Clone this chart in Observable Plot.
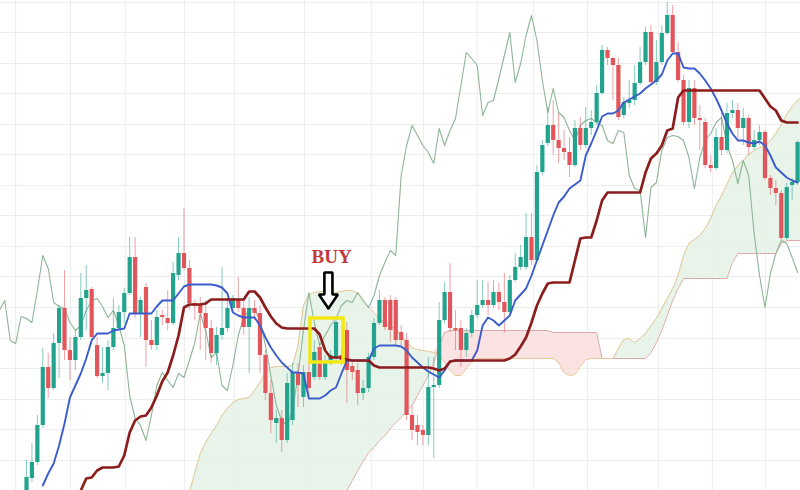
<!DOCTYPE html>
<html>
<head>
<meta charset="utf-8">
<script src="https://cdn.jsdelivr.net/npm/d3@7"></script>
<script src="https://cdn.jsdelivr.net/npm/@observablehq/plot@0.6"></script>
<style>
  html, body { margin: 0; padding: 0; background: #ffffff; }
  #chart svg { display: block; }
</style>
</head>
<body>
<div id="chart"></div>
<script>
// ---- Candles (index 0..142) ----
const open = [
  8,22,38,75,133,112,157,192,150,140,
  163,202,211,155,124,127,153,172,188,207,
  243,187,213,160,155,185,182,177,225,247,
  232,197,195,187,172,147,165,172,192,200,
  192,173,192,187,145,107,77,82,60,80,
  128,103,128,123,153,123,140,142,145,170,
  134,130,107,112,143,177,200,200,200,168,
  160,85,75,70,65,113,115,180,208,172,
  172,150,167,185,195,200,195,208,198,188,
  220,233,233,263,240,328,357,375,360,352,
  348,335,372,355,372,378,407,450,442,435,
  385,397,400,417,438,468,418,438,467,485,
  448,420,378,412,382,378,335,332,363,350,
  387,390,372,382,353,360,368,322,312,307,
  262,315,318
];
const close = [
  23,38,75,133,112,157,192,150,140,163,
  202,210,163,124,127,153,172,188,207,243,
  187,200,160,155,183,183,177,227,247,232,
  197,194,187,172,147,165,172,192,202,192,
  173,192,187,145,107,80,82,60,117,128,
  115,128,112,148,123,138,145,178,140,130,
  128,107,112,143,177,200,173,170,160,160,
  85,70,68,65,113,115,180,208,172,170,
  150,167,185,195,200,195,208,198,188,220,
  233,243,263,240,328,355,375,360,352,348,
  335,372,355,372,378,407,450,442,435,383,
  398,400,417,438,468,418,438,467,485,448,
  420,378,412,382,380,335,332,363,350,387,
  390,372,382,353,360,368,322,312,307,262,
  313,318,358
];
const high = [
  40,57,85,152,147,167,195,230,163,170,
  227,235,213,163,153,160,202,195,212,263,
  263,203,217,180,190,190,210,238,263,292,
  240,200,203,200,180,173,233,202,205,223,
  200,203,200,195,150,120,90,90,127,137,
  137,135,137,160,157,145,150,182,150,178,
  140,137,120,147,182,210,203,205,203,175,
  167,95,85,75,143,143,198,218,237,190,
  180,172,190,220,220,218,220,217,227,225,
  247,255,287,287,335,360,393,400,387,370,
  363,380,383,393,390,415,455,453,443,442,
  403,420,435,453,473,475,460,475,498,495,
  458,425,420,420,395,382,345,372,390,397,
  400,397,392,385,370,375,370,325,320,310,
  317,322,360
];
const low = [
  5,18,35,72,102,110,122,140,120,130,
  160,170,160,122,117,110,150,170,177,205,
  182,163,133,150,150,175,170,175,220,230,
  190,180,150,140,137,135,160,168,188,188,
  165,127,180,127,100,67,57,48,57,75,
  93,93,105,120,120,120,135,138,135,97,
  120,95,100,108,140,175,170,158,155,155,
  80,60,55,55,55,42,112,177,168,150,
  133,143,163,182,192,185,192,190,167,185,
  218,230,230,235,238,325,354,345,337,340,
  323,333,350,352,365,375,405,435,400,380,
  382,392,395,415,435,415,415,435,465,445,
  418,375,372,375,350,332,328,330,345,347,
  382,360,355,345,350,355,320,305,295,260,
  260,300,315
];

// ---- Tenkan-sen (conversion line), starts at candle 3 ----
const tenkanStart = 3;
const tenkan = [
  15,27,37,55,77,103,115,127,142,160,
  167,167,167,170,171,172,187,187,187,187,
  187,194,200,200,200,207,214,216,216,216,
  216,216,215,213,207,188,185,183,183,183,
  175,163,153,145,138,133,128,128,127,102,
  102,102,105,110,113,127,140,140,140,140,
  140,152,155,155,155,155,154,150,143,138,
  133,129,126,123,130,139,140,140,140,140,
  150,175,183,180,175,180,185,200,206,212,
  225,240,255,270,285,298,304,312,316,320,
  345,357,370,384,387,387,390,398,401,404,
  407,412,416,420,426,440,447,447,433,432,
  432,427,420,412,402,390,377,367,360,360,
  358,357,359,355,345,333,328,323,320,318
];

// ---- Kijun-sen (base line), starts at candle 10 ----
const kijunStart = 10;
const kijun = [
  10,22,23,30,33,33,33,34,45,68,
  80,84,85,93,105,119,128,145,165,193,
  196,196,196,197,201,201,201,201,201,201,
  201,209,209,203,193,184,177,173,172,172,
  172,172,172,172,166,150,143,143,143,141,
  140,140,140,140,135,133,133,133,133,133,
  133,133,133,133,133,132,130,132,139,140,
  140,140,140,140,140,140,140,140,140,142,
  146,154,163,178,195,207,217,218,218,218,
  218,240,262,263,263,280,300,308,308,308,
  308,308,308,308,328,342,347,355,370,372,
  403,410,410,410,410,410,410,410,410,410,
  410,410,410,410,410,410,402,394,390,380,
  378,378,378
];

// ---- Chikou span (lagging line), starts at candle -5 ----
const chikouStart = -5;
const chikou = [
  190,200,160,157,184,182,178,210,245,232,
  198,194,192,178,170,175,190,200,202,194,
  183,190,175,155,105,82,75,60,85,115,
  128,120,113,127,123,140,158,187,170,143,
  148,115,110,135,165,183,190,192,180,155,
  125,95,80,75,90,125,170,208,178,155,
  165,175,182,195,200,198,208,200,193,205,
  225,238,250,245,325,355,375,365,355,348,
  337,372,355,370,382,415,448,442,435,385,
  398,400,422,445,468,418,437,465,485,460,
  420,388,412,388,383,370,360,375,380,382,
  378,375,360,357,370,368,325,312,310,263,
  313,318,350,363,365,364,360,343,312,343,
  360,367,378,383,355,340,317,340,325,267,
  225,193,227,247,260,257,243,228
];

// ---- Senkou span A and B (cloud), start at candle 30 ----
const cloudStart = 30;
const senkouA = [
  8,28,47,58,67,75,85,92,98,101,
  102,103,110,118,128,133,134,134,134,135,
  155,195,206,208,209,209,208,208,209,210,
  210,207,200,193,188,182,178,174,172,165,
  158,153,151,150,149,148,145,138,130,125,
  125,132,138,142,142,142,142,142,142,142,
  142,142,142,142,142,142,142,142,138,128,
  125,126,134,141,142,142,142,142,142,152,
  161,162,158,162,167,175,182,192,202,212,
  225,245,257,261,265,272,282,295,305,316,
  328,335,340,346,350,353,355,360,367,376,
  386,394,400,404
];
const senkouB = [
  0,0,0,0,0,0,0,0,0,0,
  0,0,0,0,0,0,0,0,0,0,
  0,0,0,0,0,0,0,0,5,10,
  20,30,39,48,53,60,65,72,78,83,
  90,95,105,115,125,138,155,168,170,170,
  170,170,170,170,170,170,170,170,170,170,
  170,170,170,170,170,170,170,168,168,168,
  168,168,168,168,168,168,142,142,142,142,
  142,142,142,142,142,148,158,170,185,200,
  212,222,222,222,222,222,222,222,222,222,
  238,247,247,247,247,247,247,247,247,257,
  260,260,260,260
];

// ---- Grid positions (candle index / price) ----
const gridX = [-2, 8.1, 18.2, 29.1, 38.3, 51.2, 63.5, 73.1, 83, 93.4, 103.3, 116.4, 126.3, 136.1];
const gridY = [40, 71, 101, 132, 162, 193, 224, 254, 285, 315, 346, 376, 407, 437, 468, 498];

// ---- Buy signal annotation (candle index / price) ----
const buyLabel = ["BUY"];
const buyBox = [{from: 52.3, to: 58.4, low: 138, high: 182}];
const buyTextAt = {i: 56.2, price: 238};
const buyArrowTip = {i: 55.6, price: 192};
// hollow down-arrow outline: [candle offset, price offset] from the tip
const arrowOutline = [
  [0, 0], [1.75, 14], [0.74, 14], [0.74, 36], [-0.74, 36], [-0.74, 14], [-1.75, 14], [0, 0]
];

// ---- build tables ----
const UP = "#22a38d", DOWN = "#e2565b";
const candles = open.map((o, i) => ({i, o, c: close[i], h: high[i], l: low[i], col: close[i] >= o ? UP : DOWN}));
const series = (arr, start) => arr.map((v, k) => ({i: start + k, v}));
const tenkanData = series(tenkan, tenkanStart);
const kijunData = series(kijun, kijunStart);
const chikouData = series(chikou, chikouStart);
const cloud = senkouA.map((a, k) => ({i: cloudStart + k, a, b: senkouB[k]}));
const arrowData = arrowOutline.map(([di, dp]) => ({i: buyArrowTip.i + di, p: buyArrowTip.price + dp}));

const chart = Plot.plot({
  width: 800,
  height: 490,
  margin: 0,
  x: {domain: [-4.79, 142.54], axis: null},
  y: {domain: [10, 500], axis: null},
  color: {type: "identity"},
  style: {background: "#ffffff", overflow: "hidden"},
  marks: [
    Plot.ruleX(gridX, {stroke: "#ededed", strokeWidth: 1}),
    Plot.ruleY(gridY, {stroke: "#ededed", strokeWidth: 1}),
    // cloud fills
    Plot.areaY(cloud, {x: "i", y1: "b", y2: d => Math.max(d.a, d.b), fill: "#e4f2e6", fillOpacity: 0.85, clip: true}),
    Plot.areaY(cloud, {x: "i", y1: "a", y2: d => Math.max(d.a, d.b), fill: "#fbdede", fillOpacity: 0.85, clip: true}),
    Plot.line(cloud, {x: "i", y: "b", stroke: "#dcaaa6", strokeWidth: 1, clip: true}),
    Plot.line(cloud, {x: "i", y: "a", stroke: "#e6c692", strokeWidth: 1, clip: true}),
    // chikou
    Plot.line(chikouData, {x: "i", y: "v", stroke: "#8db596", strokeWidth: 1.1, clip: true}),
    // candles
    Plot.ruleX(candles, {x: "i", y1: "l", y2: "h", stroke: "col", strokeOpacity: 0.55, strokeWidth: 1, clip: true}),
    Plot.ruleX(candles, {x: "i", y1: "o", y2: "c", stroke: "col", strokeWidth: 4.2, clip: true}),
    // tenkan / kijun
    Plot.line(tenkanData, {x: "i", y: "v", stroke: "#3a5ccc", strokeWidth: 1.9, clip: true}),
    Plot.line(kijunData, {x: "i", y: "v", stroke: "#8c1d1d", strokeWidth: 2.7, clip: true}),
    // buy annotation
    Plot.rect(buyBox, {x1: "from", x2: "to", y1: "low", y2: "high", fill: "none", stroke: "#f3e714", strokeWidth: 3.5}),
    Plot.line(arrowData, {x: "i", y: "p", fill: "#ffffff", stroke: "#000000", strokeWidth: 2.6, strokeLinejoin: "miter", curve: "linear"}),
    Plot.text(buyLabel, {x: buyTextAt.i, y: buyTextAt.price, text: d => d, fill: "#c3383d", fontSize: 19, fontWeight: "bold", fontFamily: "Liberation Serif, DejaVu Serif, serif", lineAnchor: "bottom"})
  ]
});
document.getElementById("chart").appendChild(chart);
</script>
</body>
</html>
